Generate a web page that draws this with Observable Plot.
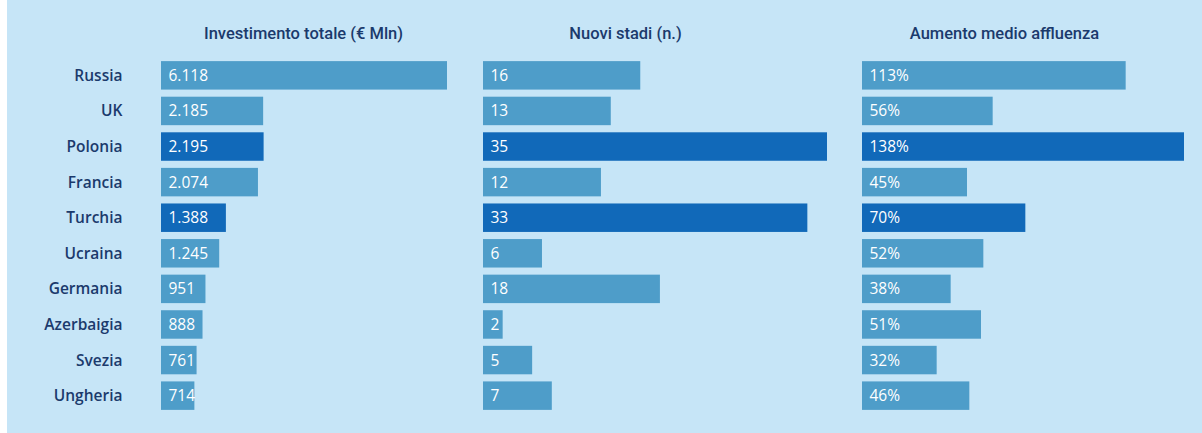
<!DOCTYPE html>
<html>
<head>
<meta charset="utf-8">
<script src="https://cdn.jsdelivr.net/npm/d3@7"></script>
<script src="https://cdn.jsdelivr.net/npm/@observablehq/plot@0.6"></script>
<style>
  html, body { margin: 0; padding: 0; background: #ffffff; }
  #wrap { position: relative; width: 1202px; height: 433px; overflow: hidden; }
  #bg { position: absolute; left: 7px; top: 0; right: 0; bottom: 0; background: #c6e5f7; }
  .panel { position: absolute; top: 0; }
</style>
</head>
<body>
<div id="wrap"><div id="bg"></div></div>
<script>
const countries = ["Russia", "UK", "Polonia", "Francia", "Turchia", "Ucraina", "Germania", "Azerbaigia", "Svezia", "Ungheria"];
const investimento = [6118, 2185, 2195, 2074, 1388, 1245, 951, 888, 761, 714];
const nuoviStadi = [16, 13, 35, 12, 33, 6, 18, 2, 5, 7];
const affluenza = [113, 56, 138, 45, 70, 52, 38, 51, 32, 46];
const highlighted = ["Polonia", "Turchia"];
const headers = ["Investimento totale (€ Mln)", "Nuovi stadi (n.)", "Aumento medio affluenza"];

const itLocale = d3.formatLocale({decimal: ",", thousands: ".", grouping: [3], currency: ["€", ""]});
const fmtThousands = itLocale.format(",d");

const navy = "#1b3a6c";
const light = "#4e9dc9";
const dark = "#1169b9";

function makePanel({values, header, fmt, left, width, marginLeft, marginRight, showY}) {
  const data = countries.map((c, i) => ({country: c, value: values[i], hl: highlighted.includes(c)}));
  const marks = [
    Plot.barX(data, {
      x: "value", y: "country",
      fill: d => d.hl ? dark : light
    }),
    Plot.text(data, {
      x: 0, y: "country", text: d => fmt(d.value),
      textAnchor: "start", dx: 7, fill: "white",
      fontSize: 15.5, fontWeight: 500, fontFamily: "Open Sans"
    }),
    Plot.text([header], {
      frameAnchor: "top-left", dx: 142, dy: -21,
      textAnchor: "middle", lineAnchor: "middle",
      fill: navy, fontSize: 16.5, fontWeight: 500,
      fontFamily: "Roboto"
    })
  ];
  if (showY) {
    marks.push(Plot.axisY({tickSize: 0, tickPadding: 39, fill: navy, fontSize: 15.5, fontWeight: 600, fontFamily: "Open Sans", label: null}));
  }
  const chart = Plot.plot({
    width, height: 433,
    marginLeft, marginRight, marginTop: 54, marginBottom: 16,
    style: {background: "transparent", fontFamily: "'Open Sans', sans-serif", overflow: "visible"},
    x: {axis: null, domain: [0, d3.max(values)]},
    y: {domain: countries, axis: null, paddingInner: 0.2, paddingOuter: 0.2, round: false},
    marks
  });
  chart.classList.add("panel");
  chart.style.left = left + "px";
  document.getElementById("wrap").appendChild(chart);
}

makePanel({values: investimento, header: headers[0], fmt: fmtThousands, left: 7, width: 463, marginLeft: 154, marginRight: 23, showY: true});
makePanel({values: nuoviStadi, header: headers[1], fmt: d => String(d), left: 470, width: 380, marginLeft: 13, marginRight: 23, showY: false});
makePanel({values: affluenza, header: headers[2], fmt: d => d + "%", left: 850, width: 352, marginLeft: 12, marginRight: 18, showY: false});
</script>
</body>
</html>
